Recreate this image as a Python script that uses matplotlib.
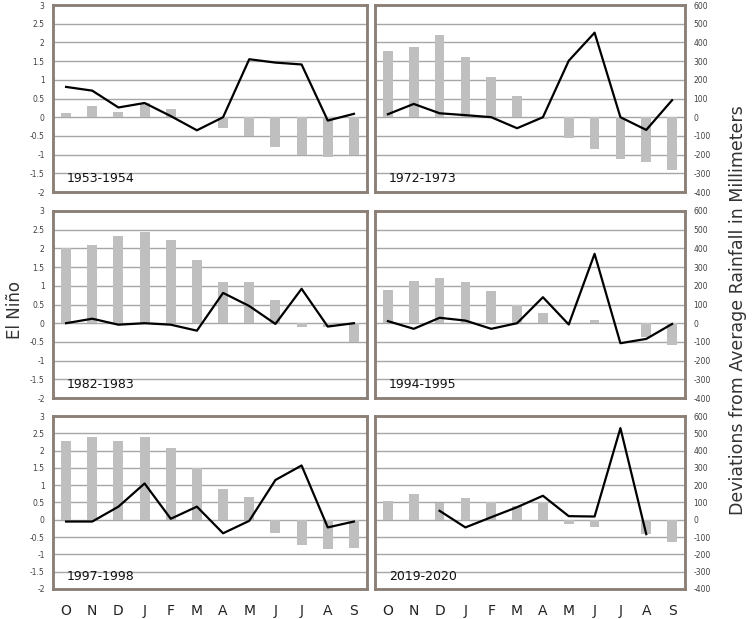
import numpy as np
import matplotlib
matplotlib.use('Agg')
import matplotlib.pyplot as plt

plt.rcParams['axes.unicode_minus'] = False

# month labels (Oct - Sep)
months = ['O', 'N', 'D', 'J', 'F', 'M', 'A', 'M', 'J', 'J', 'A', 'S']
years = ['1953-1954', '1972-1973', '1982-1983', '1994-1995', '1997-1998', '2019-2020']

# El Nino index (bars, left axis)
nino_1953 = [0.12, 0.31, 0.15, 0.38, 0.22, 0.0, -0.30, -0.49, -0.79, -1.0, -1.06, -1.02]
nino_1972 = [1.78, 1.87, 2.2, 1.6, 1.08, 0.57, -0.05, -0.55, -0.84, -1.13, -1.2, -1.4]
nino_1982 = [2.0, 2.08, 2.34, 2.43, 2.23, 1.69, 1.11, 1.11, 0.63, -0.11, -0.11, -0.51]
nino_1994 = [0.89, 1.13, 1.2, 1.1, 0.86, 0.49, 0.27, 0.0, 0.09, 0.01, -0.37, -0.57]
nino_1997 = [2.27, 2.4, 2.28, 2.4, 2.07, 1.49, 0.88, 0.67, -0.38, -0.72, -0.84, -0.82]
nino_2019 = [0.55, 0.74, 0.49, 0.64, 0.5, 0.4, 0.52, -0.11, -0.21, -0.02, -0.42, -0.65]

# rainfall deviation in mm (line, right axis)
rain_1953 = [162, 142, 52, 76, 6, -70, 0, 310, 292, 282, -18, 18]
rain_1972 = [16, 71, 21, 11, 0, -59, 0, 302, 452, 0, -68, 91]
rain_1982 = [0, 24, -8, 0, -8, -40, 162, 92, -4, 184, -18, 0]
rain_1994 = [11, -30, 29, 14, -30, 0, 139, -7, 371, -107, -84, -4]
rain_1997 = [-10, -10, 76, 210, 6, 76, -78, -6, 230, 314, -44, -10]
rain_2019 = [np.nan, np.nan, 52, -44, 15, 73, 139, 21, 19, 530, -83, np.nan]

nino = [nino_1953, nino_1972, nino_1982, nino_1994, nino_1997, nino_2019]
rain = [rain_1953, rain_1972, rain_1982, rain_1994, rain_1997, rain_2019]

W, H = 754, 619
fig = plt.figure(figsize=(W / 100, H / 100), dpi=100)

# panel boxes in pixels: (left, top, right, bottom)
cols = [(53, 367), (375, 685)]
rows = [(5, 192), (211, 398), (416, 589)]

frame_col = '#8c8076'
grid_col = '#a6a6a6'
tick_col = '#404040'
x = np.arange(12)

for i in range(6):
    r, c = divmod(i, 2)
    x0, x1 = cols[c]
    y0, y1 = rows[r]
    ax = fig.add_axes([x0 / W, 1 - y1 / H, (x1 - x0) / W, (y1 - y0) / H])
    ax.set_xlim(-0.5, 11.5)
    ax.set_ylim(-2, 3)
    ax.set_yticks(np.arange(-2, 3.01, 0.5))
    ax.grid(axis='y', color=grid_col, lw=1.0)
    ax.set_axisbelow(True)
    ax.bar(x, nino[i], width=0.38, color='#bfbfbf', zorder=2)
    ax.tick_params(length=0, labelsize=5.5, colors=tick_col, pad=6)
    ax.set_yticklabels([f'{v:g}' for v in np.arange(-2, 3.01, 0.5)])

    ax2 = ax.twinx()
    ax2.set_ylim(-400, 600)
    ax2.set_yticks(np.arange(-400, 601, 100))
    ax2.plot(x, rain[i], color='black', lw=1.6, zorder=3)
    ax2.tick_params(length=0, labelsize=5.5, colors=tick_col, pad=6)

    for a in (ax, ax2):
        for s in a.spines.values():
            s.set_color(frame_col)
            s.set_linewidth(1.8)

    if c == 0:
        ax2.set_yticklabels([])
    else:
        ax.set_yticklabels([])

    if r == 2:
        ax.set_xticks(x)
        ax.set_xticklabels(months, fontsize=10, color='#222222')
        ax.tick_params(axis='x', pad=11)
    else:
        ax.set_xticks([])

    ax.text(0.045, 0.035, years[i], transform=ax.transAxes, fontsize=9,
            ha='left', va='bottom', color='#111111', zorder=5)

fig.text(15 / W, 1 - 310 / H, 'El Niño', rotation=90, ha='center', va='center',
         fontsize=12, color='#333333')
fig.text(738 / W, 1 - 310 / H, 'Deviations from Average Rainfall in Millimeters',
         rotation=90, ha='center', va='center', fontsize=12.5, color='#333333')

fig.savefig('out.png', dpi=100)
